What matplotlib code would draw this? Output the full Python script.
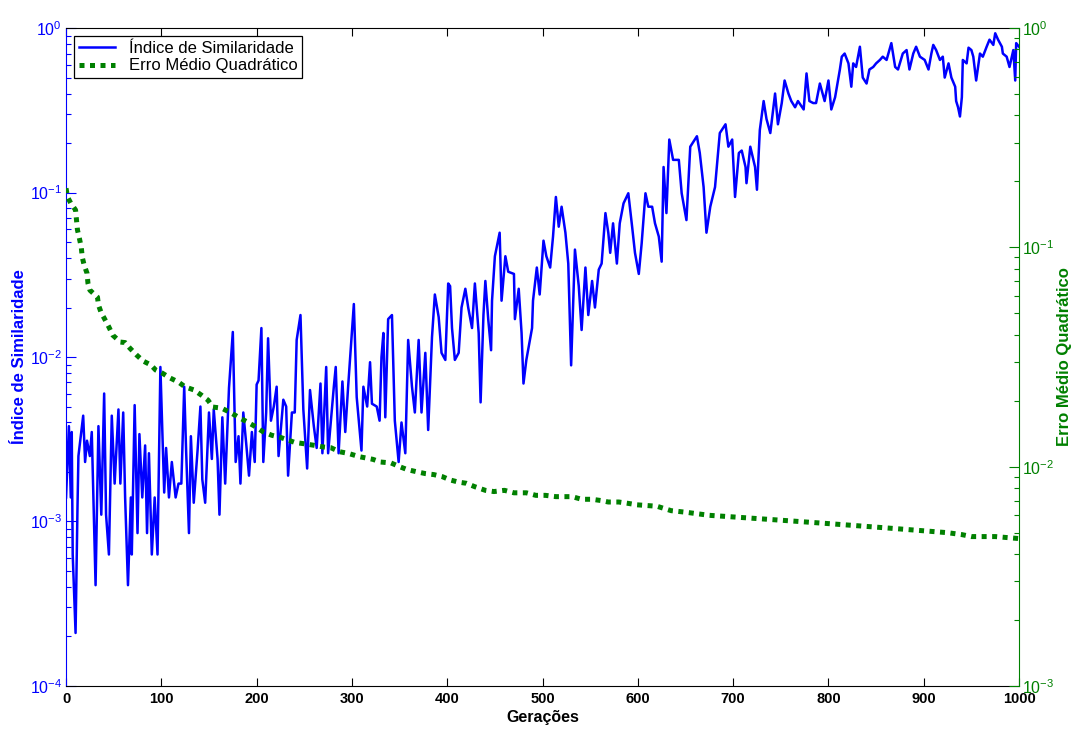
import numpy as np
import matplotlib
matplotlib.use('Agg')
import matplotlib.pyplot as plt
from matplotlib.ticker import LogLocator, NullFormatter, FixedLocator, FixedFormatter

plt.rcParams.update({
    'font.family': ['Liberation Sans', 'DejaVu Sans'],
    'mathtext.fontset': 'custom',
    'mathtext.rm': 'Liberation Sans',
    'mathtext.bf': 'Liberation Sans:bold',
    'mathtext.it': 'Liberation Sans:italic',
    'xtick.direction': 'in',
    'ytick.direction': 'in',
})

BLUE = '#0000ff'
GREEN = '#008000'

# Índice de Similaridade (left axis)
sim_gen = [0, 3, 5, 6, 7, 10, 12, 13, 18, 20, 22, 25, 27, 31, 34, 37, 40, 42, 45, 48,
           51, 55, 57, 60, 62, 65, 68, 69, 72, 75, 77, 80, 83, 85, 87, 90, 93, 96, 99, 103,
           105, 108, 111, 115, 118, 121, 124, 126, 129, 131, 134, 138, 141, 143, 146, 150,
           153, 155, 159, 161, 164, 167, 171, 175, 178, 181, 183, 186, 189, 192, 195, 198,
           200,
           202, 205, 207, 210, 212, 215, 218, 221, 223, 228, 231, 233, 237, 240, 242, 246,
           249, 253, 256, 260, 263, 267, 269, 273, 275, 281, 283, 286, 290, 293, 296, 302,
           305, 310, 312, 316, 319, 321, 326, 329, 331, 333, 335, 338, 342, 345, 349, 352,
           356, 359, 363, 366, 370, 373, 377, 380, 384, 387, 391, 394, 398, 401,
           403, 405, 408, 412, 415, 419, 422, 426, 429, 433, 435, 438, 440, 443, 446, 447,
           450, 455, 457, 461, 464, 470, 471, 475, 478, 480, 483, 489, 490, 494, 497, 501,
           504, 508, 511, 514, 517, 520, 524, 527, 530, 534, 538, 541, 545, 548, 552, 555,
           559, 562, 566, 569, 571, 574, 578, 581, 585, 590, 594, 597, 601, 604, 608, 611,
           615, 618, 622, 625, 627, 630, 633, 637, 643, 646, 651, 655, 662, 665, 669, 672,
           676, 681, 686, 692, 695, 699, 702, 706, 709, 713, 714, 718, 723, 725, 728, 732,
           735, 739, 744, 747, 751, 754, 758, 761, 765, 768, 774, 777, 780, 784, 787, 791,
           796, 800, 803, 807, 812, 814, 817, 821, 824, 826, 829, 833, 836, 840, 843, 847,
           850, 854, 857, 861, 866, 870, 873, 878, 882, 885, 889, 892, 896, 901, 905, 908,
           910, 913, 917, 920, 922, 926, 929, 933, 934, 936, 938, 940, 941, 945, 947, 950,
           952, 955, 959, 962, 966, 969, 973, 975, 978, 982, 983, 987, 990, 994, 996, 997,
           1000]
sim_val = [0.0014, 0.0038, 0.0014, 0.0035, 0.00063, 0.00021, 0.0012, 0.0025, 0.0044, 0.0023,
           0.0031, 0.0025, 0.0035, 0.00041, 0.0038, 0.0011, 0.0060, 0.0011, 0.00063, 0.0044,
           0.0017, 0.0048, 0.0017, 0.0046, 0.0014, 0.00041, 0.0014, 0.00063, 0.0051, 0.00085,
           0.0034, 0.0014, 0.0029, 0.00085, 0.0026, 0.00063, 0.0014, 0.00063, 0.0087, 0.0015,
           0.0028, 0.0014, 0.0023, 0.0014, 0.0017, 0.0017, 0.0066, 0.0027, 0.00085, 0.0033,
           0.0013, 0.0027, 0.0050, 0.0018, 0.0013, 0.0046, 0.0024, 0.0048, 0.0024, 0.0011,
           0.0043, 0.0017, 0.0065, 0.0142, 0.0023, 0.0033, 0.0017, 0.0046, 0.0030, 0.0019,
           0.0035, 0.0023, 0.0068,
           0.0072, 0.015, 0.0023, 0.0046, 0.013, 0.0041, 0.0050, 0.0066, 0.0025, 0.0055,
           0.0050, 0.0019, 0.0046, 0.0046, 0.0127, 0.018, 0.0048, 0.0021, 0.0063, 0.0038,
           0.0028, 0.0069, 0.0026, 0.0087, 0.0026, 0.0066, 0.0087, 0.0026, 0.0071, 0.0035,
           0.0066, 0.021, 0.0057, 0.0027, 0.0066, 0.0050, 0.0093, 0.0052, 0.0050, 0.0041,
           0.0100, 0.0140, 0.0043, 0.017, 0.018, 0.0041, 0.0023, 0.0040, 0.0026, 0.0127,
           0.0066, 0.0046, 0.0127, 0.0046, 0.0106, 0.0036, 0.0132, 0.024, 0.0175, 0.0106,
           0.0096, 0.028,
           0.027, 0.015, 0.0096, 0.0106, 0.020, 0.026, 0.020, 0.015, 0.028, 0.014,
           0.0053, 0.018, 0.029, 0.017, 0.011, 0.022, 0.041, 0.057, 0.022, 0.041,
           0.033, 0.032, 0.017, 0.026, 0.014, 0.0069, 0.0096, 0.015, 0.022, 0.035,
           0.024, 0.051, 0.041, 0.035, 0.054, 0.094, 0.062, 0.082, 0.057, 0.037,
           0.0089, 0.045, 0.027, 0.0146, 0.035, 0.018, 0.029, 0.020, 0.034, 0.037,
           0.075, 0.057, 0.043, 0.065, 0.037, 0.065, 0.086, 0.099, 0.062, 0.043,
           0.032, 0.049, 0.099, 0.082,
           0.082, 0.065, 0.054, 0.038, 0.143, 0.075, 0.21, 0.158, 0.158, 0.099,
           0.068, 0.19, 0.22, 0.174, 0.108, 0.057, 0.082, 0.108, 0.23, 0.26,
           0.19, 0.21, 0.094, 0.174, 0.18, 0.143, 0.114, 0.19, 0.143, 0.104,
           0.24, 0.36, 0.28, 0.23, 0.40, 0.26, 0.35, 0.48, 0.40, 0.36,
           0.33, 0.36, 0.32, 0.53, 0.36, 0.35, 0.35, 0.46, 0.36, 0.48,
           0.32, 0.38, 0.56, 0.67, 0.70, 0.61, 0.44, 0.61, 0.58, 0.77,
           0.50, 0.46, 0.56, 0.58, 0.61, 0.64, 0.67, 0.64, 0.81, 0.58,
           0.56, 0.70, 0.735, 0.56, 0.70, 0.77, 0.67, 0.64, 0.56, 0.70,
           0.79, 0.735, 0.64, 0.67, 0.50, 0.61, 0.50, 0.44, 0.36, 0.33,
           0.29, 0.38, 0.64, 0.61, 0.76, 0.735, 0.67, 0.48, 0.70, 0.67,
           0.77, 0.85, 0.79, 0.93, 0.85, 0.77, 0.70, 0.67, 0.58, 0.735,
           0.48, 0.81, 0.77]

# Erro Médio Quadrático (right axis)
mse_gen = [0, 1.5, 5, 10, 11, 12, 14, 16, 17, 19, 22, 23, 25, 33, 34, 37, 40, 45, 49, 57,
           62, 67, 74, 81, 89, 94, 101, 109, 118, 125, 134, 142, 149, 154, 163, 172, 181,
           190, 199, 207, 216, 225, 240, 251, 261, 270, 278, 287, 296, 308, 322, 330, 341,
           350, 358, 367, 377, 386, 395, 403, 412, 420, 429, 440, 449, 460, 470, 483, 493,
           503, 514, 531, 541, 552, 562, 569, 580, 590, 599, 620, 635, 650, 675, 700, 725,
           750, 775, 800, 825, 850, 875, 900, 925, 940, 950, 975, 1000]
mse_val = [0.186, 0.170, 0.159, 0.148, 0.133, 0.120, 0.110, 0.100, 0.0903, 0.0830, 0.0763,
           0.0687, 0.0638, 0.0593, 0.0546, 0.0502, 0.0476, 0.0433, 0.0398, 0.0370, 0.0368,
           0.0347, 0.0323, 0.0303, 0.0291, 0.0276, 0.0267, 0.0254, 0.0243, 0.0231, 0.0224,
           0.0212, 0.0201, 0.0187, 0.0185, 0.0177, 0.0168, 0.0160, 0.0152, 0.0144, 0.0139,
           0.0136, 0.0129, 0.0127, 0.0125, 0.0123, 0.0122, 0.0117, 0.0115, 0.0111, 0.0108,
           0.0105, 0.0104, 0.0100, 0.0097, 0.0095, 0.0093, 0.0092, 0.0090, 0.0087, 0.0085,
           0.0084, 0.0081, 0.0078, 0.0077, 0.0078, 0.0076, 0.0076, 0.0074, 0.0074, 0.0073,
           0.0073, 0.0071, 0.0071, 0.0070, 0.0069, 0.0069, 0.0068, 0.0067, 0.0066, 0.0063,
           0.0062, 0.0060, 0.0059, 0.0058, 0.0057, 0.0056, 0.0055, 0.0054, 0.0053, 0.0052,
           0.0051, 0.0050, 0.0049, 0.0048, 0.0048, 0.0047]

x_ticks = list(range(0, 1001, 100))
left_exp = [-4, -3, -2, -1, 0]
right_exp = [-3, -2, -1, 0]

fig = plt.figure(figsize=(10.72, 7.31), dpi=100)
ax1 = fig.add_axes([0.0616, 0.0616, 0.889, 0.9])
ax2 = ax1.twinx()

l1, = ax1.plot(sim_gen, sim_val, color=BLUE, lw=1.8)
l2, = ax2.plot(mse_gen, mse_val, color=GREEN, lw=3.6, linestyle=(0, (1, 1.1)),
               dash_capstyle='butt')

ax1.set_xlim(0, 1000)
ax1.set_yscale('log')
ax1.set_ylim(1e-4, 1)
ax2.set_yscale('log')
ax2.set_ylim(1e-3, 1)

# x axis
ax1.xaxis.set_major_locator(FixedLocator(x_ticks))
ax1.set_xticklabels([str(v) for v in x_ticks], fontsize=10.5, fontweight='bold')
ax1.tick_params(axis='x', top=True, length=6, width=0.8, colors='black', pad=4)
ax1.set_xlabel('Gerações', fontsize=11.5, fontweight='bold', labelpad=3)

# left axis
ax1.yaxis.set_major_locator(FixedLocator([10.0 ** e for e in left_exp]))
ax1.yaxis.set_major_formatter(FixedFormatter([r'$10^{%d}$' % e for e in left_exp]))
ax1.yaxis.set_minor_locator(LogLocator(base=10, subs=np.arange(2, 10)))
ax1.yaxis.set_minor_formatter(NullFormatter())
ax1.tick_params(axis='y', which='major', length=7, width=0.8, color=BLUE,
                labelcolor=BLUE, labelsize=11.5, right=False, pad=3)
ax1.tick_params(axis='y', which='minor', length=3.6, width=0.8, color=BLUE, right=False)
ax1.set_ylabel('Índice de Similaridade', color=BLUE, fontsize=12, fontweight='bold',
               labelpad=2)

# right axis
ax2.yaxis.set_major_locator(FixedLocator([10.0 ** e for e in right_exp]))
ax2.yaxis.set_major_formatter(FixedFormatter([r'$10^{%d}$' % e for e in right_exp]))
ax2.yaxis.set_minor_locator(LogLocator(base=10, subs=np.arange(2, 10)))
ax2.yaxis.set_minor_formatter(NullFormatter())
ax2.tick_params(axis='y', which='major', length=7, width=0.8, color=GREEN,
                labelcolor=GREEN, labelsize=11.5, pad=2)
ax2.tick_params(axis='y', which='minor', length=3.6, width=0.8, color=GREEN)
ax2.set_ylabel('Erro Médio Quadrático', color=GREEN, fontsize=12, fontweight='bold',
               rotation=90, labelpad=2)

for sp in ['top', 'bottom']:
    ax1.spines[sp].set_color('black')
ax1.spines['left'].set_color(BLUE)
ax1.spines['right'].set_visible(False)
ax2.spines['right'].set_color(GREEN)
for sp in ['left', 'top', 'bottom']:
    ax2.spines[sp].set_visible(False)

leg = ax2.legend([l1, l2], ['Índice de Similaridade', 'Erro Médio Quadrático'],
                 loc='upper left', bbox_to_anchor=(0.008, 0.988), fontsize=12,
                 fancybox=False, framealpha=1, edgecolor='black', borderpad=0.3,
                 handlelength=2.2, labelspacing=0.15, borderaxespad=0)
leg.get_frame().set_linewidth(0.9)

fig.savefig('out.png', dpi=100)
